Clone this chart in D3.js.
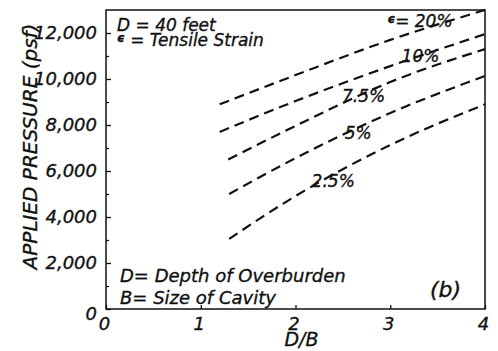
<!DOCTYPE html>
<html>
<head>
<meta charset="utf-8">
<script src="https://cdn.jsdelivr.net/npm/d3@7"></script>
<style>
  body { margin: 0; background: #fff; }
  text { font-family: "DejaVu Sans", sans-serif; font-style: italic; fill: #111; stroke: #111; stroke-width: 0.35px; }
</style>
</head>
<body>
<div id="chart"></div>
<script>
// values (D/B vs applied pressure, psf)
var db20 = [1.2, 2, 3, 4],   p20 = [8900, 10170, 11700, 13000];
var db10 = [1.2, 2, 3, 4],   p10 = [7700, 9040, 10560, 11950];
var db75 = [1.29, 2, 3, 4],  p75 = [6500, 7960, 9870, 11300];
var db5  = [1.3, 2, 3, 4],   p5  = [5000, 6560, 8520, 10130];
var db25 = [1.3, 2, 3, 4],   p25 = [3050, 4910, 7130, 8900];

var strainNames = ["20%", "10%", "7.5%", "5%", "2.5%"];
// where each curve label sits, in data units (left edge / baseline)
var labelDB = [2.97, 3.12, 2.49, 2.52, 2.17];
var labelP  = [12250, 10740, 9000, 7380, 5300];

var xTicks = [0, 1, 2, 3, 4];
var yTicks = [0, 2000, 4000, 6000, 8000, 10000, 12000];
var yMinor = [1000, 3000, 5000, 7000, 9000, 11000];

var W = 498, H = 351;
var margin = {top: 10, right: 13, bottom: 42, left: 106};
var width = W - margin.left - margin.right,
    height = H - margin.top - margin.bottom;

var svg = d3.select("#chart").append("svg")
  .attr("width", W)
  .attr("height", H)
  .append("g")
  .attr("transform", "translate(" + margin.left + "," + margin.top + ")");

var x = d3.scaleLinear().domain([0, 4]).range([0, width]);
var y = d3.scaleLinear().domain([0, 13000]).range([height, 0]);

// frame around the plot
svg.append("rect")
  .attr("width", width)
  .attr("height", height)
  .attr("fill", "none")
  .attr("stroke", "#111")
  .attr("stroke-width", 1.5);

// bottom axis, ticks pointing in
var xAxis = svg.append("g")
  .attr("transform", "translate(0," + height + ")")
  .call(d3.axisBottom(x).tickValues(xTicks).tickSize(-4).tickPadding(8).tickFormat(d3.format("d")));
xAxis.select(".domain").remove();
xAxis.selectAll("text").attr("font-size", 18).attr("dx", "-2");

// left axis, major + minor ticks pointing in
var yAxis = svg.append("g")
  .call(d3.axisLeft(y).tickValues(yTicks).tickSize(-5).tickPadding(9).tickFormat(d3.format(",")));
yAxis.select(".domain").remove();
yAxis.selectAll("text").attr("font-size", 18);
yAxis.selectAll(".tick").filter(function(d){ return d === 0; }).select("text")
  .attr("dy", "0.6em");

var yAxisMinor = svg.append("g")
  .call(d3.axisLeft(y).tickValues(yMinor).tickSize(-3).tickFormat(""));
yAxisMinor.select(".domain").remove();

svg.selectAll(".tick line").attr("stroke", "#111").attr("stroke-width", 1.3);

// axis titles
svg.append("text")
  .attr("transform", "rotate(-90)")
  .attr("x", 0 - (height / 2) + 13)
  .attr("y", 0 - margin.left + 37)
  .attr("text-anchor", "middle")
  .attr("font-size", 20)
  .text("APPLIED PRESSURE (psf)");

svg.append("text")
  .attr("x", x(2) + 6)
  .attr("y", height + 37)
  .attr("text-anchor", "middle")
  .attr("font-size", 19)
  .text("D/B");

// dashed curves
var curves = [
  {name: strainNames[0], db: db20, p: p20},
  {name: strainNames[1], db: db10, p: p10},
  {name: strainNames[2], db: db75, p: p75},
  {name: strainNames[3], db: db5,  p: p5},
  {name: strainNames[4], db: db25, p: p25}
];

var line = d3.line()
  .x(function(d){ return x(d[0]); })
  .y(function(d){ return y(d[1]); })
  .curve(d3.curveMonotoneX);

svg.selectAll(".curve")
  .data(curves)
  .enter().append("path")
  .attr("class", "curve")
  .attr("fill", "none")
  .attr("stroke", "#111")
  .attr("stroke-width", 2.2)
  .attr("stroke-dasharray", "10,6")
  .attr("d", function(c){ return line(c.db.map(function(v, i){ return [v, c.p[i]]; })); });

// curve labels
svg.selectAll(".clabel")
  .data(curves)
  .enter().append("text")
  .attr("class", "clabel")
  .attr("x", function(c, i){ return x(labelDB[i]); })
  .attr("y", function(c, i){ return y(labelP[i]); })
  .attr("font-size", 17)
  .each(function(c, i){
    var t = d3.select(this);
    if (i === 0) {
      t.append("tspan").attr("font-size", 12).attr("font-weight", "bold").attr("dy", -4).text("ϵ");
      t.append("tspan").attr("dy", 4).text("= " + c.name);
    } else {
      t.text(c.name);
    }
  });

// notes inside the plot
var notes = svg.append("g");
notes.append("text").attr("x", 11).attr("y", 21).attr("font-size", 17).text("D = 40 feet");
var eps = notes.append("text").attr("x", 11).attr("y", 36).attr("font-size", 17);
eps.append("tspan").attr("font-size", 12).attr("font-weight", "bold").attr("dy", -4).text("ϵ");
eps.append("tspan").attr("dy", 4).text(" = Tensile Strain");

notes.append("text").attr("x", 14).attr("y", height - 27).attr("font-size", 18).text("D= Depth of Overburden");
notes.append("text").attr("x", 14).attr("y", height - 5).attr("font-size", 18).text("B= Size of Cavity");

svg.append("text")
  .attr("x", width - 55)
  .attr("y", height - 12)
  .attr("font-size", 22)
  .text("(b)");
</script>
</body>
</html>
